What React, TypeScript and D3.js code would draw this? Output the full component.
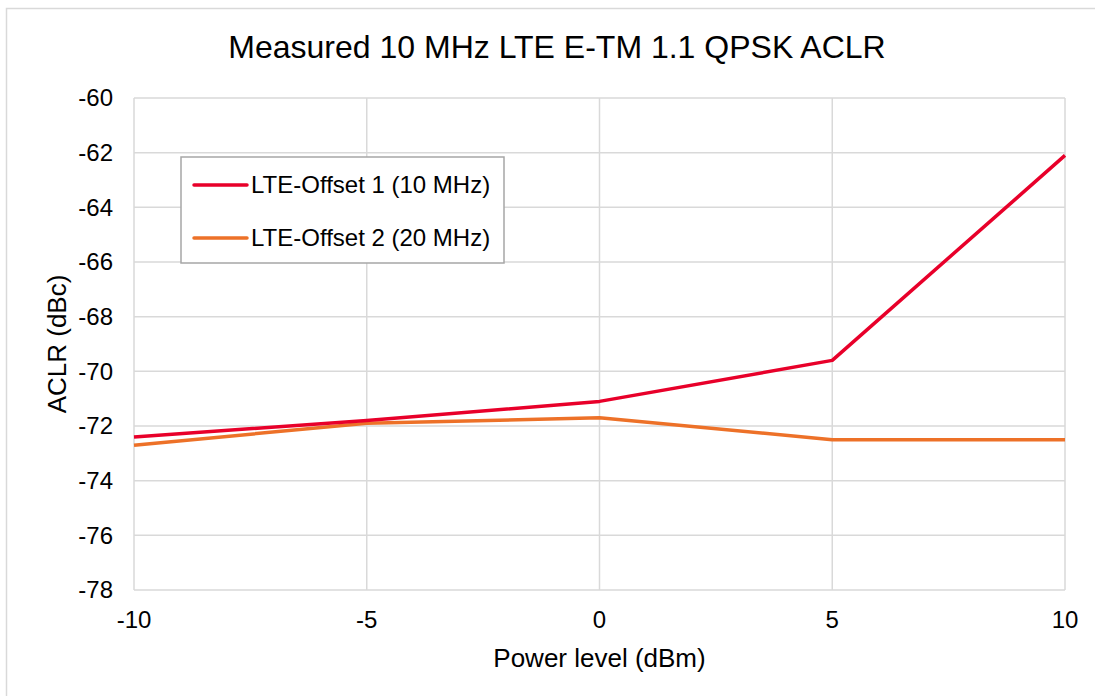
import { useEffect, useRef } from "react";
import * as d3 from "d3";

const powerLevels = [-10, -5, 0, 5, 10];
const offset1 = [-72.4, -71.8, -71.1, -69.6, -62.1];
const offset2 = [-72.7, -71.9, -71.7, -72.5, -72.5];
const yTicks = [-60, -62, -64, -66, -68, -70, -72, -74, -76, -78];
const seriesNames = ["LTE-Offset 1 (10 MHz)", "LTE-Offset 2 (20 MHz)"];
const seriesColors = ["#e8002a", "#ed7128"];

export default function App() {
  const ref = useRef<SVGSVGElement>(null);
  useEffect(() => {
    document.body.style.margin = "0";
    if (!ref.current) return;
    const svg = d3.select(ref.current);
    svg.selectAll("*").remove();
    const w = 1095;
    const h = 696;
    const m = { t: 98, r: 30, b: 106, l: 134 };
    const font = "Liberation Sans, Arial, sans-serif";

    svg.append("rect")
      .attr("x", 6.5).attr("y", 8.5)
      .attr("width", w).attr("height", h)
      .attr("fill", "#fff").attr("stroke", "#d9d9d9").attr("stroke-width", 1.5);

    const x = d3.scaleLinear().domain([-10, 10]).range([m.l, w - m.r]);
    const y = d3.scaleLinear().domain([-78, -60]).range([h - m.b, m.t]);

    // grid
    svg.append("g")
      .selectAll("line")
      .data(yTicks)
      .join("line")
      .attr("x1", m.l).attr("x2", w - m.r)
      .attr("y1", (d) => y(d)).attr("y2", (d) => y(d))
      .attr("stroke", "#d9d9d9").attr("stroke-width", 1.5);
    svg.append("g")
      .selectAll("line")
      .data(powerLevels)
      .join("line")
      .attr("x1", (d) => x(d)).attr("x2", (d) => x(d))
      .attr("y1", m.t).attr("y2", h - m.b)
      .attr("stroke", "#d9d9d9").attr("stroke-width", 1.5);

    // y tick labels
    svg.append("g")
      .selectAll("text")
      .data(yTicks)
      .join("text")
      .attr("x", m.l - 21).attr("y", (d) => y(d))
      .attr("dy", "0.35em")
      .attr("text-anchor", "end")
      .attr("font-family", font).attr("font-size", 24).attr("fill", "#000")
      .text((d) => d);

    // x tick labels
    svg.append("g")
      .selectAll("text")
      .data(powerLevels)
      .join("text")
      .attr("x", (d) => x(d)).attr("y", h - m.b + 38)
      .attr("text-anchor", "middle")
      .attr("font-family", font).attr("font-size", 24).attr("fill", "#000")
      .text((d) => d);

    // title and axis titles
    svg.append("text")
      .attr("x", 557).attr("y", 58)
      .attr("text-anchor", "middle")
      .attr("font-family", font).attr("font-size", 32).attr("fill", "#000")
      .text("Measured 10 MHz LTE E-TM 1.1 QPSK ACLR");
    svg.append("text")
      .attr("x", (m.l + w - m.r) / 2).attr("y", h - m.b + 77)
      .attr("text-anchor", "middle")
      .attr("font-family", font).attr("font-size", 26).attr("fill", "#000")
      .text("Power level (dBm)");
    svg.append("text")
      .attr("transform", `translate(57,${(m.t + h - m.b) / 2}) rotate(-90)`)
      .attr("dy", "0.35em")
      .attr("text-anchor", "middle")
      .attr("font-family", font).attr("font-size", 26).attr("fill", "#000")
      .text("ACLR (dBc)");

    // series lines
    const line = d3.line<number>()
      .x((_, i) => x(powerLevels[i]))
      .y((d) => y(d));
    [offset2, offset1].forEach((vals, k) => {
      const idx = k === 0 ? 1 : 0;
      svg.append("path")
        .attr("d", line(vals))
        .attr("fill", "none")
        .attr("stroke", seriesColors[idx])
        .attr("stroke-width", 3.5)
        .attr("stroke-linejoin", "round");
    });

    // legend
    const lg = svg.append("g").attr("transform", "translate(181,157)");
    lg.append("rect")
      .attr("width", 323).attr("height", 106)
      .attr("fill", "#fff").attr("stroke", "#a6a6a6").attr("stroke-width", 1.5);
    seriesNames.forEach((name, i) => {
      const cy = 28 + i * 53;
      lg.append("line")
        .attr("x1", 13).attr("x2", 66)
        .attr("y1", cy).attr("y2", cy)
        .attr("stroke", seriesColors[i]).attr("stroke-width", 3.5)
        .attr("stroke-linecap", "round");
      lg.append("text")
        .attr("x", 70).attr("y", cy)
        .attr("dy", "0.35em")
        .attr("font-family", font).attr("font-size", 24).attr("fill", "#000")
        .text(name);
    });
  }, []);
  return (
    <svg
      ref={ref}
      width={1095}
      height={696}
      style={{ position: "absolute", left: 0, top: 0, display: "block" }}
    />
  );
}
